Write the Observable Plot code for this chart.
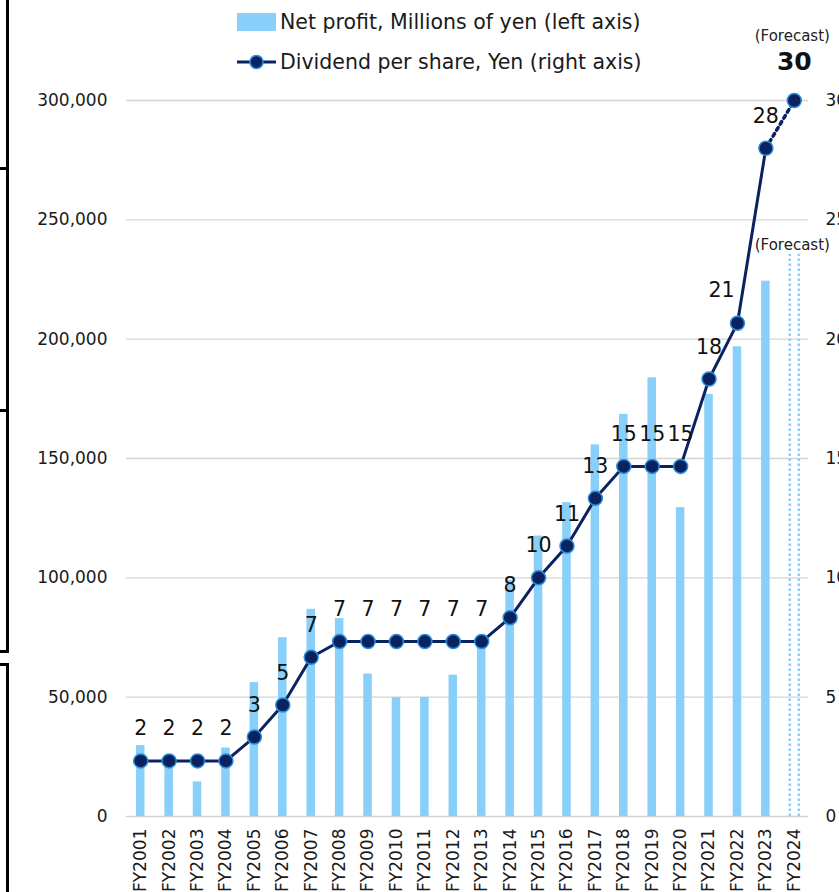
<!DOCTYPE html>
<html><head><meta charset="utf-8">
<script src="https://cdn.jsdelivr.net/npm/d3@7"></script>
<script src="https://cdn.jsdelivr.net/npm/@observablehq/plot@0.6"></script>
<style>
body{margin:0;background:#fff;overflow:hidden;}
#wrap{position:relative;width:839px;height:892px;overflow:hidden;font-family:"DejaVu Sans",sans-serif;background:#fff;}
#chart{position:absolute;left:0;top:0;}
.edge{position:absolute;background:#000;}
.leg{position:absolute;left:237px;display:flex;align-items:center;font-size:20.5px;color:#1a1a1a;white-space:nowrap;}
.sw{width:39px;height:18px;background:#88CFFA;margin-right:4px;}
</style></head>
<body><div id="wrap">
<div id="chart"></div>
<div class="leg" style="top:11px;height:22px;"><div class="sw"></div><span>Net profit, Millions of yen (left axis)</span></div>
<div class="leg" style="top:51px;height:22px;"><svg width="39" height="22" style="margin-right:4px"><line x1="0" x2="39" y1="11" y2="11" stroke="#0b2260" stroke-width="3"/><circle cx="19.5" cy="11" r="6.5" fill="#0b2260" stroke="#2a8fd6" stroke-width="1.5"/></svg><span>Dividend per share, Yen (right axis)</span></div>
<div class="edge" style="left:6px;top:0;width:3px;height:653px;"></div>
<div class="edge" style="left:0;top:167px;width:9px;height:3px;"></div>
<div class="edge" style="left:0;top:409px;width:9px;height:3px;"></div>
<div class="edge" style="left:0;top:650px;width:9px;height:3px;"></div>
<div class="edge" style="left:0;top:663px;width:9px;height:3px;"></div>
<div class="edge" style="left:6px;top:663px;width:3px;height:229px;"></div>
</div>
<script>
const years = ["FY2001","FY2002","FY2003","FY2004","FY2005","FY2006","FY2007","FY2008","FY2009","FY2010","FY2011","FY2012","FY2013","FY2014","FY2015","FY2016","FY2017","FY2018","FY2019","FY2020","FY2021","FY2022","FY2023","FY2024"];
// Net profit, millions of yen (FY2024 = forecast)
const netProfit = [29700,24000,14500,28700,56100,74900,86800,82900,59700,49800,49900,59200,72000,99000,117500,131500,155700,168500,183800,129400,176900,196800,224300,235500];
// Dividend per share, yen (split-adjusted)
const dividend = [2.33,2.33,2.33,2.33,3.33,4.67,6.67,7.33,7.33,7.33,7.33,7.33,7.33,8.33,10,11.33,13.33,14.67,14.67,14.67,18.33,20.67,28,30];
const dividendLabels = ["2","2","2","2","3","5","7","7","7","7","7","7","7","8","10","11","13","15","15","15","18","21","28","30"];
const leftTicks = [0,50000,100000,150000,200000,250000,300000];
const forecastYear = "FY2024";
const RATIO = 10000; // right axis 30 yen <-> left axis 300,000

const data = years.map((y,i)=>({year:y, profit:netProfit[i], div:dividend[i]*RATIO, label:dividendLabels[i], forecast:y===forecastYear}));
const actual = data.filter(d=>!d.forecast);
const fc = data.filter(d=>d.forecast);
const lastTwo = data.slice(-2);

const navy = "#0b2260", lightBlue = "#88CFFA", ring = "#2a8fd6";

const chart = Plot.plot({
  width:839, height:892,
  marginTop:100, marginBottom:76, marginLeft:126, marginRight:31,
  style:{fontFamily:"DejaVu Sans, sans-serif", fontSize:"17px", color:"#1a1a1a", background:"transparent", overflow:"visible"},
  x:{type:"band", domain:years, paddingInner:0.7, paddingOuter:0.35, round:false},
  y:{domain:[0,300000]},
  marks:[
    Plot.gridY(leftTicks, {stroke:"#d4d4d4", strokeOpacity:1, strokeWidth:1.4}),
    Plot.axisY(leftTicks, {anchor:"left", tickSize:0, tickPadding:19, tickFormat:d3.format(","), label:null, fontSize:17}),
    Plot.axisY(leftTicks, {anchor:"right", tickSize:0, tickPadding:17, tickFormat:d=>d/RATIO, label:null, fontSize:17}),
    Plot.axisX({tickRotate:-90, tickSize:0, tickPadding:12, textAnchor:"end", lineAnchor:"middle", label:null, fontSize:17}),
    Plot.barY(actual, {x:"year", y:"profit", fill:lightBlue}),
    Plot.ruleX(fc, {x:"year", y1:0, y2:"profit", dx:-4.5, stroke:lightBlue, strokeWidth:2.5, strokeDasharray:"2.5,2.5"}),
    Plot.ruleX(fc, {x:"year", y1:0, y2:"profit", dx:4.5, stroke:lightBlue, strokeWidth:2.5, strokeDasharray:"2.5,2.5"}),
    Plot.line(actual, {x:"year", y:"div", stroke:navy, strokeWidth:3}),
    Plot.line(lastTwo, {x:"year", y:"div", stroke:navy, strokeWidth:3.5, strokeDasharray:"3,4"}),
    Plot.dot(data, {x:"year", y:"div", r:7, fill:navy, stroke:ring, strokeWidth:1.5}),
    Plot.text(actual.filter(d=>d.year!=="FY2022"), {x:"year", y:"div", text:"label", dy:-32, fontSize:20.5, fill:"#111"}),
    Plot.text(actual.filter(d=>d.year==="FY2022"), {x:"year", y:"div", text:"label", dy:-33, dx:-16, fontSize:20.5, fill:"#111"}),
    Plot.text(fc, {x:"year", y:"div", text:"label", dy:-39, fontSize:25, fontWeight:"bold", fill:"#111"}),
    Plot.text(fc, {x:"year", y:"div", text:()=>"(Forecast)", dy:-64, dx:-2, fontSize:15, fill:"#222"}),
    Plot.text(fc, {x:"year", y:"profit", text:()=>"(Forecast)", dy:-9, dx:-2, fontSize:15, fill:"#222"})
  ]
});
document.getElementById("chart").appendChild(chart);
</script>
</body></html>
